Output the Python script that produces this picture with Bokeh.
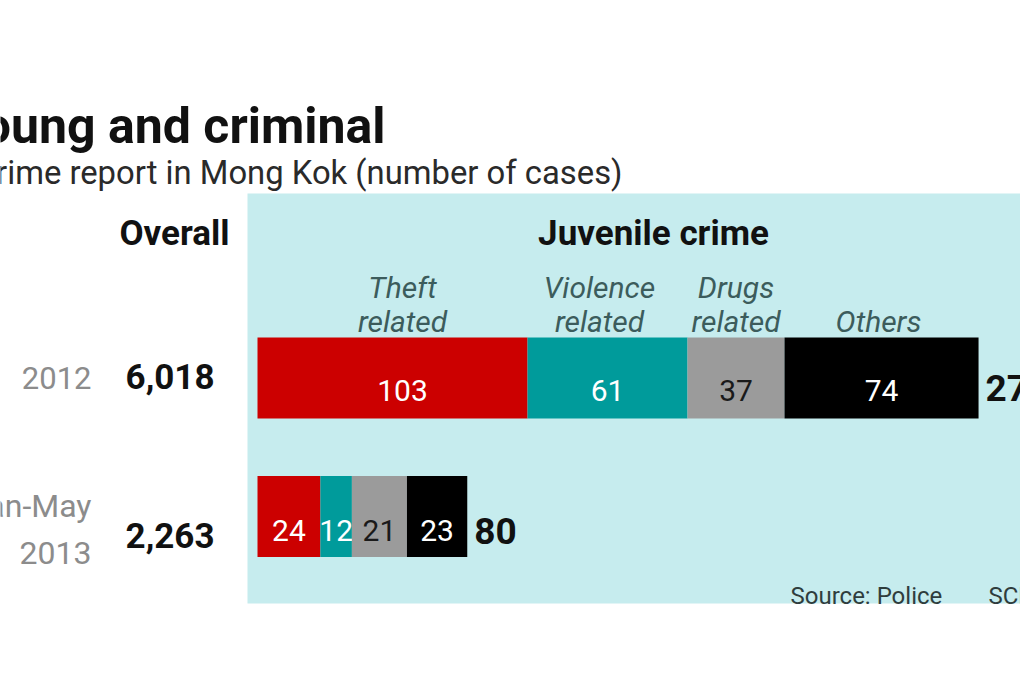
from bokeh.plotting import figure
from bokeh.models import Range1d
from bokeh.core.properties import value
from bokeh.embed import file_html
from bokeh.resources import INLINE
import numpy as np

# ---------------- data ----------------
periods = ["2012", "Jan-May 2013"]
period_lines = [["2012"], ["Jan-May", "2013"]]
overall = [6018, 2263]
categories = ["Theft related", "Violence related", "Drugs related", "Others"]
cat_lines = [["Theft", "related"], ["Violence", "related"], ["Drugs", "related"], ["Others"]]
theft = [103, 24]
violence = [61, 12]
drugs = [37, 21]
others = [74, 23]
totals = [275, 80]

title = "Young and criminal"
subtitle = "Crime report in Mong Kok (number of cases)"
source = "Source: Police"
credit = "SCMP"

# ---------------- layout ----------------
W, H = 1020, 680
X0 = 257.0          # screen x of zero cases
S = 2.622           # pixels per case
FONT = "Roboto"

def px(x):
    return (x - X0) / S

colors = ["#cc0000", "#009b9b", "#9b9b9b", "#000000"]
label_colors = ["#ffffff", "#ffffff", "#1a1a1a", "#ffffff"]
row_y = [377.5, 516.0]
bar_h = 81
val_base = [390, 530]
tot_base = [387, 530]

p = figure(width=W, height=H, output_backend="svg", toolbar_location=None,
           x_range=Range1d(px(0), px(W)), y_range=Range1d(H, 0),
           x_axis_location=None, y_axis_location=None, min_border=0,
           background_fill_color="white", border_fill_color="white",
           outline_line_color=None)
p.grid.visible = False

# juvenile panel
p.quad(left=[px(247)], right=[px(1030)], top=[193], bottom=[603],
       fill_color="#c6ecee", line_color=None)

# stacked bars
series = [theft, violence, drugs, others]
cum = np.zeros(len(periods))
seg_centers = []
for k, vals in enumerate(series):
    vals = np.array(vals, dtype=float)
    left = cum.copy()
    right = cum + vals
    p.hbar(y=row_y, left=left, right=right, height=bar_h,
           fill_color=colors[k], line_color=None)
    centers = (left + right) / 2
    seg_centers.append(centers)
    nudge = 10 if k == 0 else 0
    p.text(x=list(centers), y=val_base, text=[str(v) for v in vals.astype(int)],
           text_font=value(FONT), text_font_size="30px", text_color=label_colors[k],
           text_align="center", text_baseline="alphabetic", x_offset=[nudge, 0])
    cum = right

# totals
p.text(x=list(cum), y=tot_base, text=[str(t) for t in totals], x_offset=7,
       text_font=value(FONT), text_font_size="37px", text_font_style="bold",
       text_color="#111111", text_align="left", text_baseline="alphabetic")

# category headers
cat_nudge = [10, -8, 0, -3]
l1x, l1t, l1o, l2x, l2t, l2o = [], [], [], [], [], []
for k, lines in enumerate(cat_lines):
    cx = seg_centers[k][0]
    if len(lines) == 2:
        l1x.append(cx); l1t.append(lines[0]); l1o.append(cat_nudge[k])
    l2x.append(cx); l2t.append(lines[-1]); l2o.append(cat_nudge[k])
for xs, ts, offs, base in [(l1x, l1t, l1o, 287), (l2x, l2t, l2o, 321)]:
    p.text(x=xs, y=[base] * len(xs), text=ts, x_offset=offs,
           text_font=value(FONT), text_font_size="30px", text_font_style="italic",
           text_color="#3c5c5c", text_align="center", text_baseline="alphabetic")

# section headers
p.text(x=[px(229)], y=[233], text=["Overall"], text_font=value(FONT),
       text_font_size="35px", text_font_style="bold", text_color="#111111",
       text_align="right", text_baseline="alphabetic")
p.text(x=[px(653)], y=[233], text=["Juvenile crime"], text_font=value(FONT),
       text_font_size="35px", text_font_style="bold", text_color="#111111",
       text_align="center", text_baseline="alphabetic")

# period labels
p.text(x=[px(91)], y=[377], text=[period_lines[0][0]], text_font=value(FONT),
       text_font_size="31px", text_color="#8c8c8c", text_align="right",
       text_baseline="alphabetic")
p.text(x=[px(91), px(91)], y=[505, 552], text=period_lines[1], text_font=value(FONT),
       text_font_size="32px", text_color="#8c8c8c", text_align="right",
       text_baseline="alphabetic")

# overall numbers
p.text(x=[px(214)] * 2, y=[376, 535], text=[f"{v:,}" for v in overall],
       text_font=value(FONT), text_font_size="35px", text_font_style="bold",
       text_color="#111111", text_align="right", text_baseline="alphabetic")

# title & subtitle (cropped at the left edge as in the original)
p.text(x=[px(385)], y=[125], text=[title], text_font=value(FONT),
       text_font_size="50px", text_font_style="bold", text_color="#111111",
       text_align="right", text_baseline="alphabetic")
p.text(x=[px(622)], y=[172], text=[subtitle], text_font=value(FONT),
       text_font_size="32.8px", text_color="#2a2a2a",
       text_align="right", text_baseline="alphabetic")

# source / credit
p.text(x=[px(790), px(988)], y=[595, 595], text=[source, credit], text_font=value(FONT),
       text_font_size="24px", text_color="#2f3d3d",
       text_align="left", text_baseline="alphabetic")

open("out.html", "w").write(file_html(p, INLINE))
